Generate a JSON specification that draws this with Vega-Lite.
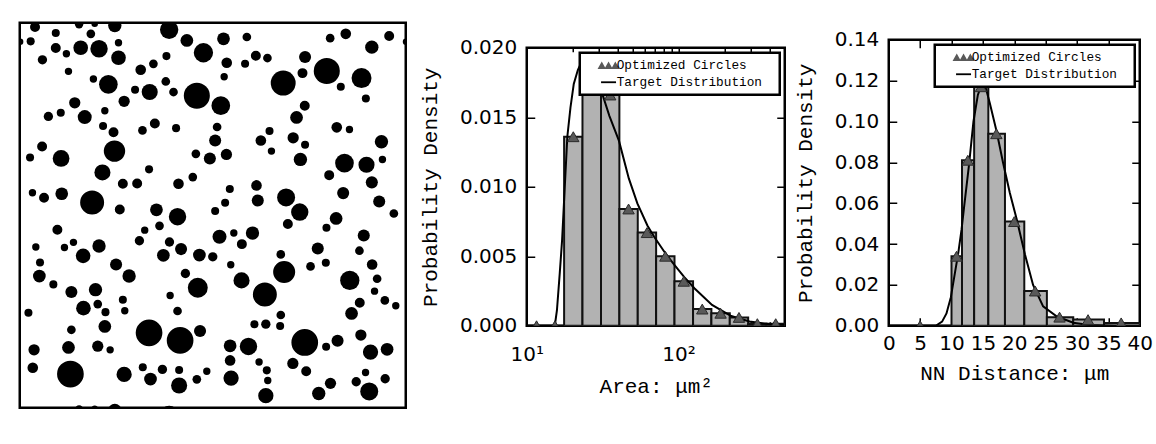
{
  "$schema": "https://vega.github.io/schema/vega-lite/v6.json",
  "background": "white",
  "padding": {"left": 17.75, "top": 20.75, "right": 0, "bottom": 0},
  "datasets": {
    "circles": [
      {"x":9.5,"y":2.7,"d":6.2},{"x":36.9,"y":1.0,"d":5.2},{"x":46.6,"y":0.6,"d":4.1},{"x":59.1,"y":1.7,"d":8.3},{"x":92.9,"y":4.4,"d":11.4},
      {"x":36.9,"y":241.0,"d":5.2},{"x":46.6,"y":240.6,"d":4.1},{"x":59.1,"y":241.7,"d":8.3},{"x":92.9,"y":244.4,"d":11.4},
      {"x":202.7,"y":6.9,"d":6.6},{"x":229.7,"y":8.3,"d":6.2},{"x":193.0,"y":9.6,"d":5.4},{"x":22.4,"y":6.4,"d":5.0},{"x":44.2,"y":6.9,"d":5.4},
      {"x":6.8,"y":11.6,"d":5.0},{"x":0.2,"y":11.8,"d":4.1},{"x":240.2,"y":11.8,"d":4.1},{"x":103.9,"y":11.0,"d":7.9},{"x":126.7,"y":10.0,"d":7.9},
      {"x":141.2,"y":8.9,"d":5.4},{"x":37.9,"y":15.6,"d":9.1},{"x":49.3,"y":16.2,"d":10.8},{"x":22.4,"y":15.8,"d":6.2},{"x":61.4,"y":12.5,"d":4.6},
      {"x":218.9,"y":15.2,"d":8.3},{"x":114.2,"y":18.7,"d":12.0},{"x":29.0,"y":19.3,"d":4.6},{"x":14.1,"y":23.1,"d":5.8},{"x":61.4,"y":21.8,"d":9.1},
      {"x":91.2,"y":20.8,"d":5.0},{"x":83.1,"y":25.6,"d":5.4},{"x":75.2,"y":29.3,"d":6.6},{"x":128.7,"y":24.9,"d":6.6},{"x":140.1,"y":25.6,"d":5.0},
      {"x":146.8,"y":20.6,"d":6.2},{"x":154.0,"y":22.0,"d":5.4},{"x":177.4,"y":21.4,"d":7.5},{"x":190.9,"y":30.1,"d":16.2},{"x":163.8,"y":37.6,"d":15.5},
      {"x":212.5,"y":34.5,"d":12.4},{"x":175.8,"y":31.4,"d":6.2},{"x":30.3,"y":30.3,"d":4.6},{"x":127.1,"y":33.7,"d":4.6},{"x":45.8,"y":35.1,"d":4.6},
      {"x":55.1,"y":38.4,"d":11.6},{"x":90.8,"y":36.6,"d":5.4},{"x":71.7,"y":41.8,"d":5.0},{"x":80.8,"y":43.2,"d":10.0},{"x":95.6,"y":43.2,"d":5.4},
      {"x":110.1,"y":45.5,"d":16.2},{"x":125.0,"y":51.7,"d":11.6},{"x":199.6,"y":39.9,"d":5.0},{"x":215.2,"y":47.2,"d":5.0},{"x":64.9,"y":49.0,"d":7.0},
      {"x":34.2,"y":49.9,"d":7.0},{"x":177.2,"y":51.7,"d":6.2},{"x":25.5,"y":56.1,"d":5.0},{"x":17.8,"y":58.4,"d":5.8},{"x":40.4,"y":58.8,"d":8.7},
      {"x":52.9,"y":54.9,"d":4.6},{"x":172.1,"y":59.0,"d":7.9},{"x":84.0,"y":62.8,"d":6.2},{"x":97.2,"y":65.7,"d":5.0},{"x":76.3,"y":67.1,"d":5.4},
      {"x":51.8,"y":64.4,"d":5.0},{"x":58.3,"y":68.2,"d":6.2},{"x":122.7,"y":65.0,"d":5.4},{"x":197.1,"y":65.2,"d":6.6},{"x":205.0,"y":66.5,"d":4.6},
      {"x":155.3,"y":67.5,"d":5.0},{"x":149.9,"y":73.4,"d":6.6},{"x":170.0,"y":71.7,"d":7.0},{"x":177.4,"y":76.1,"d":5.0},{"x":156.5,"y":80.0,"d":4.6},
      {"x":121.5,"y":73.4,"d":7.5},{"x":224.9,"y":74.2,"d":8.3},{"x":13.9,"y":77.1,"d":6.2},{"x":6.4,"y":84.0,"d":5.0},{"x":25.7,"y":84.6,"d":10.4},
      {"x":58.9,"y":80.0,"d":13.3},{"x":109.5,"y":81.7,"d":5.4},{"x":118.2,"y":84.6,"d":7.5},{"x":128.5,"y":82.1,"d":7.0},{"x":174.5,"y":85.2,"d":8.3},
      {"x":201.9,"y":87.5,"d":11.6},{"x":215.6,"y":88.5,"d":10.0},{"x":225.5,"y":85.2,"d":4.6},{"x":80.4,"y":91.4,"d":5.0},{"x":51.4,"y":93.3,"d":10.0},
      {"x":192.4,"y":95.0,"d":6.2},{"x":107.6,"y":96.2,"d":5.4},{"x":64.1,"y":100.4,"d":6.2},{"x":73.0,"y":100.2,"d":6.2},{"x":98.7,"y":100.4,"d":6.6},
      {"x":147.2,"y":101.4,"d":6.6},{"x":218.9,"y":99.5,"d":7.5},{"x":130.6,"y":103.7,"d":5.0},{"x":7.9,"y":106.0,"d":4.6},{"x":15.1,"y":109.1,"d":6.2},
      {"x":26.1,"y":106.6,"d":7.9},{"x":45.0,"y":112.0,"d":14.9},{"x":201.1,"y":106.2,"d":7.5},{"x":165.6,"y":108.9,"d":11.2},{"x":148.0,"y":110.8,"d":7.5},
      {"x":127.7,"y":112.2,"d":5.0},{"x":223.5,"y":111.4,"d":7.5},{"x":62.2,"y":116.4,"d":6.2},{"x":85.0,"y":116.6,"d":7.9},{"x":98.1,"y":120.9,"d":10.8},
      {"x":121.5,"y":117.4,"d":5.0},{"x":174.1,"y":118.0,"d":10.8},{"x":232.6,"y":118.9,"d":5.4},{"x":196.7,"y":122.0,"d":7.9},{"x":166.7,"y":125.5,"d":6.2},
      {"x":86.9,"y":126.6,"d":5.4},{"x":190.7,"y":127.8,"d":5.0},{"x":23.4,"y":129.0,"d":6.2},{"x":77.7,"y":129.3,"d":4.6},{"x":124.2,"y":133.4,"d":8.7},
      {"x":133.1,"y":131.1,"d":4.6},{"x":144.7,"y":131.1,"d":8.3},{"x":213.9,"y":132.6,"d":7.5},{"x":74.4,"y":135.9,"d":5.8},{"x":93.1,"y":136.7,"d":5.8},
      {"x":33.4,"y":136.9,"d":4.6},{"x":138.1,"y":138.0,"d":6.2},{"x":10.0,"y":139.8,"d":4.6},{"x":27.8,"y":140.1,"d":4.6},{"x":49.3,"y":139.2,"d":8.3},
      {"x":100.3,"y":141.1,"d":7.5},{"x":185.3,"y":140.7,"d":7.5},{"x":211.2,"y":142.1,"d":5.4},{"x":39.4,"y":145.3,"d":9.1},{"x":89.3,"y":145.0,"d":7.9},
      {"x":111.7,"y":144.8,"d":7.9},{"x":120.0,"y":145.9,"d":5.8},{"x":162.3,"y":144.4,"d":5.4},{"x":12.6,"y":149.4,"d":5.0},{"x":190.3,"y":149.6,"d":5.0},
      {"x":59.9,"y":150.7,"d":7.5},{"x":131.2,"y":150.9,"d":4.6},{"x":219.1,"y":150.7,"d":6.6},{"x":180.8,"y":151.9,"d":5.4},{"x":164.4,"y":155.4,"d":13.7},
      {"x":103.0,"y":156.3,"d":5.8},{"x":12.2,"y":157.9,"d":7.9},{"x":68.0,"y":157.9,"d":8.3},{"x":137.9,"y":160.6,"d":10.0},{"x":205.2,"y":160.6,"d":12.0},
      {"x":222.2,"y":159.6,"d":5.4},{"x":20.9,"y":163.1,"d":5.0},{"x":110.7,"y":165.2,"d":12.4},{"x":47.1,"y":166.4,"d":8.3},{"x":32.1,"y":167.9,"d":7.5},
      {"x":152.4,"y":169.4,"d":14.9},{"x":220.6,"y":167.3,"d":4.6},{"x":93.5,"y":170.0,"d":4.6},{"x":64.1,"y":172.7,"d":5.0},{"x":227.0,"y":173.1,"d":5.4},
      {"x":211.4,"y":174.6,"d":6.2},{"x":233.8,"y":176.4,"d":4.6},{"x":48.5,"y":175.4,"d":5.4},{"x":39.6,"y":177.9,"d":9.1},{"x":65.3,"y":179.5,"d":4.6},
      {"x":53.3,"y":180.4,"d":5.0},{"x":98.1,"y":179.7,"d":5.4},{"x":5.4,"y":180.8,"d":5.0},{"x":206.3,"y":181.2,"d":7.9},{"x":162.3,"y":182.2,"d":5.4},
      {"x":145.9,"y":187.9,"d":5.0},{"x":153.0,"y":187.9,"d":5.8},{"x":161.9,"y":189.1,"d":5.0},{"x":52.9,"y":189.3,"d":7.9},{"x":32.1,"y":191.4,"d":5.4},
      {"x":80.4,"y":193.3,"d":16.6},{"x":99.7,"y":198.0,"d":16.6},{"x":112.1,"y":192.2,"d":7.5},{"x":177.2,"y":199.3,"d":16.6},{"x":212.1,"y":194.7,"d":7.0},
      {"x":197.6,"y":198.2,"d":7.5},{"x":190.5,"y":202.0,"d":5.0},{"x":130.8,"y":201.4,"d":7.9},{"x":142.2,"y":201.8,"d":10.8},{"x":30.3,"y":202.4,"d":7.9},
      {"x":48.5,"y":201.6,"d":7.0},{"x":56.2,"y":203.9,"d":4.6},{"x":8.9,"y":203.9,"d":7.0},{"x":218.1,"y":205.3,"d":9.5},{"x":228.4,"y":203.6,"d":7.9},
      {"x":130.8,"y":210.5,"d":6.6},{"x":169.8,"y":212.4,"d":7.0},{"x":8.1,"y":215.1,"d":6.6},{"x":31.5,"y":219.0,"d":16.6},{"x":64.9,"y":219.2,"d":9.5},
      {"x":76.5,"y":214.7,"d":5.0},{"x":88.7,"y":216.1,"d":5.8},{"x":99.1,"y":216.5,"d":5.0},{"x":148.8,"y":211.5,"d":4.6},{"x":153.6,"y":216.7,"d":5.0},
      {"x":178.1,"y":217.2,"d":6.2},{"x":215.0,"y":218.0,"d":4.6},{"x":81.3,"y":222.1,"d":7.9},{"x":99.1,"y":226.1,"d":10.0},{"x":110.1,"y":222.3,"d":5.4},
      {"x":116.3,"y":217.2,"d":4.6},{"x":131.4,"y":221.5,"d":9.5},{"x":154.2,"y":223.0,"d":4.6},{"x":227.2,"y":221.9,"d":5.8},{"x":193.2,"y":224.8,"d":7.0},
      {"x":209.2,"y":223.8,"d":5.8},{"x":185.9,"y":231.1,"d":8.3},{"x":217.3,"y":229.8,"d":11.2},{"x":153.0,"y":232.5,"d":9.5}
    ],
    "areaHist": [
      {"lo":10.09,"hi":13.34,"mid":11.6,"density":0},
      {"lo":13.34,"hi":17.62,"mid":15.33,"density":0},
      {"lo":17.62,"hi":23.28,"mid":20.25,"density":0.0136},
      {"lo":23.28,"hi":30.83,"mid":26.79,"density":0.0186},
      {"lo":30.83,"hi":40.74,"mid":35.44,"density":0.0166},
      {"lo":40.74,"hi":53.83,"mid":46.83,"density":0.0084},
      {"lo":53.83,"hi":71.12,"mid":61.87,"density":0.0067},
      {"lo":71.12,"hi":93.97,"mid":81.75,"density":0.005},
      {"lo":93.97,"hi":124.5,"mid":108.2,"density":0.0032},
      {"lo":124.5,"hi":164.4,"mid":143.1,"density":0.0012},
      {"lo":164.4,"hi":217.3,"mid":189.0,"density":0.0009},
      {"lo":217.3,"hi":287.1,"mid":249.8,"density":0.0006},
      {"lo":287.1,"hi":379.3,"mid":330.0,"density":0.00015},
      {"lo":379.3,"hi":501.2,"mid":436.0,"density":0.00015}
    ],
    "areaCurve": [
      {"area":10,"density":0},{"area":15.3,"density":0},{"area":15.8,"density":0.0011},{"area":16.5,"density":0.0038},
      {"area":17.1,"density":0.0062},{"area":17.8,"density":0.01},{"area":18.5,"density":0.0136},{"area":19.4,"density":0.0157},
      {"area":20.4,"density":0.0174},{"area":21.7,"density":0.0184},{"area":22.8,"density":0.0189},{"area":24.5,"density":0.0191},
      {"area":26.5,"density":0.0187},{"area":28.5,"density":0.0179},{"area":31.4,"density":0.0167},{"area":35,"density":0.0151},
      {"area":40.5,"density":0.0133},{"area":47,"density":0.0106},{"area":53.5,"density":0.0088},{"area":62.4,"density":0.0072},
      {"area":69,"density":0.0064},{"area":82,"density":0.0052},{"area":93.5,"density":0.0044},{"area":109,"density":0.0035},
      {"area":127,"density":0.0027},{"area":166,"density":0.0015},{"area":222,"density":0.0007},{"area":293,"density":0.0003},
      {"area":388,"density":0.00012},{"area":500,"density":0.00005}
    ],
    "nnHist": [
      {"lo":0,"hi":10,"mid":5.0,"density":0},
      {"lo":10.0,"hi":11.67,"mid":10.8,"density":0.034},
      {"lo":11.67,"hi":13.61,"mid":12.6,"density":0.081},
      {"lo":13.61,"hi":15.87,"mid":14.7,"density":0.117},
      {"lo":15.87,"hi":18.52,"mid":17.15,"density":0.094},
      {"lo":18.52,"hi":21.6,"mid":20.0,"density":0.051},
      {"lo":21.6,"hi":25.2,"mid":23.33,"density":0.017},
      {"lo":25.2,"hi":29.4,"mid":27.22,"density":0.0042},
      {"lo":29.4,"hi":34.3,"mid":31.76,"density":0.003},
      {"lo":34.3,"hi":40.0,"mid":37.04,"density":0.0014}
    ],
    "nnCurve": [
      {"dist":0,"density":0},{"dist":7.5,"density":0},{"dist":8.5,"density":0.002},{"dist":9.2,"density":0.006},
      {"dist":9.9,"density":0.014},{"dist":10.5,"density":0.025},{"dist":11.1,"density":0.036},{"dist":11.6,"density":0.047},
      {"dist":12.0,"density":0.058},{"dist":12.8,"density":0.079},{"dist":13.5,"density":0.1},{"dist":14.2,"density":0.113},
      {"dist":14.9,"density":0.119},{"dist":15.5,"density":0.116},{"dist":16.1,"density":0.109},{"dist":17.2,"density":0.095},
      {"dist":18.2,"density":0.08},{"dist":19.3,"density":0.065},{"dist":20.4,"density":0.052},{"dist":21.7,"density":0.035},
      {"dist":23.0,"density":0.02},{"dist":24.6,"density":0.0095},{"dist":26.8,"density":0.0045},{"dist":29.4,"density":0.0015},
      {"dist":32,"density":0.0004},{"dist":36,"density":0},{"dist":40,"density":0}
    ],
    "legendKeys": [
      {"series":"Optimized Circles","area":10,"density":0},
      {"series":"Target Distribution","area":10,"density":0}
    ]
  },
  "spacing": 6,
  "resolve": {
    "scale": {"shape": "independent", "fill": "independent", "size": "independent"},
    "legend": {"shape": "independent", "fill": "independent", "size": "independent"}
  },
  "hconcat": [
    {
      "width": 386,
      "height": 385,
      "title": {"text": " ", "orient": "right", "fontSize": 2, "offset": 2},
      "data": {"name": "circles"},
      "mark": {"type": "circle", "color": "#000000", "opacity": 1, "clip": true},
      "encoding": {
        "x": {"field": "x", "type": "quantitative", "scale": {"domain": [0, 240], "nice": false, "zero": false}, "axis": null},
        "y": {"field": "y", "type": "quantitative", "scale": {"domain": [0, 240], "nice": false, "zero": false, "reverse": true}, "axis": null},
        "size": {"field": "d", "type": "quantitative", "scale": {"type": "pow", "exponent": 2, "domain": [0, 20], "range": [0, 1035]}, "legend": null}
      }
    },
    {
      "spacing": 0,
      "resolve": {
        "scale": {"shape": "independent", "fill": "independent"},
        "legend": {"shape": "independent", "fill": "independent"}
      },
      "vconcat": [
        {
          "width": 1,
          "height": 12.3,
          "view": {"stroke": null},
          "data": {"values": []},
          "mark": "point"
        },
        {
          "width": 258,
          "height": 278,
          "resolve": {"axis": {"x": "independent", "y": "independent"}},
          "layer": [
            {
              "data": {"name": "areaHist"},
              "mark": {"type": "rect", "fill": "#b2b2b2", "stroke": "#111111", "strokeWidth": 2, "clip": true},
              "encoding": {
                "x": {"field": "lo", "type": "quantitative", "scale": {"type": "log", "domain": [10, 500], "nice": false},
                      "axis": {"orient": "bottom", "values": [10, 100], "tickSize": -8, "labelExpr": "datum.value == 10 ? '10¹' : '10²'", "labelPadding": 27, "title": "Area: μm²", "titlePadding": 11}},
                "x2": {"field": "hi"},
                "y": {"field": "density", "type": "quantitative", "scale": {"domain": [0, 0.02], "nice": false},
                      "axis": {"orient": "left", "values": [0, 0.005, 0.01, 0.015, 0.02], "format": ".3f", "tickSize": -8, "labelPadding": 18, "title": "Probability Density", "titlePadding": 19}},
                "y2": {"datum": 0}
              }
            },
            {
              "data": {"name": "areaCurve"},
              "mark": {"type": "line", "color": "#000000", "strokeWidth": 2, "clip": true},
              "encoding": {
                "x": {"field": "area", "type": "quantitative", "axis": {"orient": "top", "values": [10, 100], "tickSize": -8, "labels": false, "title": null}},
                "y": {"field": "density", "type": "quantitative", "axis": {"orient": "right", "values": [0, 0.005, 0.01, 0.015, 0.02], "tickSize": -8, "labels": false, "title": null}}
              }
            },
            {
              "data": {"name": "areaHist"},
              "mark": {"type": "point", "shape": "triangle-up", "filled": true, "fill": "#595959", "stroke": "#2b2b2b", "strokeWidth": 1, "size": 130, "opacity": 1, "clip": true},
              "encoding": {
                "x": {"field": "mid", "type": "quantitative", "axis": {"orient": "bottom", "values": [20, 30, 40, 50, 60, 70, 80, 90, 200, 300, 400, 500], "tickSize": -4, "labels": false, "title": null}},
                "y": {"field": "density", "type": "quantitative", "axis": null}
              }
            },
            {
              "data": {"name": "legendKeys"},
              "mark": {"type": "point", "filled": true, "opacity": 0, "stroke": "#2b2b2b", "strokeWidth": 1},
              "encoding": {
                "x": {"field": "area", "type": "quantitative", "axis": {"orient": "top", "values": [20, 30, 40, 50, 60, 70, 80, 90, 200, 300, 400, 500], "tickSize": -4, "labels": false, "title": null}},
                "y": {"field": "density", "type": "quantitative", "axis": null},
                "shape": {"field": "series", "type": "nominal",
                          "scale": {"domain": ["Optimized Circles", "Target Distribution"], "range": ["M-1.57,0.55L-0.97,-0.55L-0.37,0.55ZM-0.6,0.55L0,-0.55L0.6,0.55ZM0.37,0.55L0.97,-0.55L1.57,0.55Z", "M-1.07,-0.13H1.07V0.13H-1.07Z"]},
                          "legend": {"title": " "}},
                "fill": {"field": "series", "type": "nominal",
                         "scale": {"domain": ["Optimized Circles", "Target Distribution"], "range": ["#595959", "#000000"]},
                         "legend": {"title": " "}}
              }
            }
          ]
        }
      ]
    },
    {
      "spacing": 0,
      "resolve": {
        "scale": {"shape": "independent", "fill": "independent"},
        "legend": {"shape": "independent", "fill": "independent"}
      },
      "vconcat": [
        {
          "width": 1,
          "height": 5,
          "view": {"stroke": null},
          "data": {"values": []},
          "mark": "point"
        },
        {
          "width": 251,
          "height": 286,
          "resolve": {"axis": {"x": "independent", "y": "independent"}},
          "layer": [
            {
              "data": {"name": "nnHist"},
              "mark": {"type": "rect", "fill": "#b2b2b2", "stroke": "#111111", "strokeWidth": 2, "clip": true},
              "encoding": {
                "x": {"field": "lo", "type": "quantitative", "scale": {"domain": [0, 40], "nice": false, "zero": false},
                      "axis": {"orient": "bottom", "values": [0, 5, 10, 15, 20, 25, 30, 35, 40], "tickSize": -8, "labelPadding": 16, "title": "NN Distance: μm", "titlePadding": 9}},
                "x2": {"field": "hi"},
                "y": {"field": "density", "type": "quantitative", "scale": {"domain": [0, 0.14], "nice": false},
                      "axis": {"orient": "left", "values": [0, 0.02, 0.04, 0.06, 0.08, 0.1, 0.12, 0.14], "format": ".2f", "tickSize": -8, "labelPadding": 18, "title": "Probability Density", "titlePadding": 19}},
                "y2": {"datum": 0}
              }
            },
            {
              "data": {"name": "nnCurve"},
              "mark": {"type": "line", "color": "#000000", "strokeWidth": 2, "clip": true},
              "encoding": {
                "x": {"field": "dist", "type": "quantitative", "axis": {"orient": "top", "values": [0, 5, 10, 15, 20, 25, 30, 35, 40], "tickSize": -8, "labels": false, "title": null}},
                "y": {"field": "density", "type": "quantitative", "axis": {"orient": "right", "values": [0, 0.02, 0.04, 0.06, 0.08, 0.1, 0.12, 0.14], "tickSize": -8, "labels": false, "title": null}}
              }
            },
            {
              "data": {"name": "nnHist"},
              "mark": {"type": "point", "shape": "triangle-up", "filled": true, "fill": "#595959", "stroke": "#2b2b2b", "strokeWidth": 1, "size": 130, "opacity": 1, "clip": true},
              "encoding": {
                "x": {"field": "mid", "type": "quantitative", "axis": null},
                "y": {"field": "density", "type": "quantitative", "axis": null}
              }
            },
            {
              "data": {"name": "legendKeys"},
              "mark": {"type": "point", "filled": true, "opacity": 0, "stroke": "#2b2b2b", "strokeWidth": 1},
              "encoding": {
                "shape": {"field": "series", "type": "nominal",
                          "scale": {"domain": ["Optimized Circles", "Target Distribution"], "range": ["M-1.57,0.55L-0.97,-0.55L-0.37,0.55ZM-0.6,0.55L0,-0.55L0.6,0.55ZM0.37,0.55L0.97,-0.55L1.57,0.55Z", "M-1.07,-0.13H1.07V0.13H-1.07Z"]},
                          "legend": {"title": " "}},
                "fill": {"field": "series", "type": "nominal",
                         "scale": {"domain": ["Optimized Circles", "Target Distribution"], "range": ["#595959", "#000000"]},
                         "legend": {"title": " "}}
              }
            }
          ]
        }
      ]
    }
  ],
  "config": {
    "view": {"stroke": "#000000", "strokeWidth": 2.5},
    "axis": {
      "domain": false, "grid": false, "ticks": true, "tickColor": "#000000", "tickWidth": 1.5,
      "labelColor": "#000000", "labelFont": "DejaVu Sans", "labelFontSize": 20,
      "labelFlush": false, "labelOverlap": false, "labelBound": false,
      "titleColor": "#000000", "titleFont": "Liberation Mono", "titleFontSize": 21, "titleFontWeight": "normal"
    },
    "legend": {
      "orient": "top-right", "offset": 5, "fillColor": "#ffffff", "strokeColor": "#000000", "strokeWidth": 2.5,
      "padding": 5, "rowPadding": 2, "labelOffset": 0.6, "symbolOffset": 16.3, "symbolSize": 196, "symbolOpacity": 1,
      "symbolStrokeColor": "#2b2b2b", "symbolStrokeWidth": 1,
      "labelFont": "Liberation Mono", "labelFontSize": 12.75, "labelColor": "#000000",
      "titleOrient": "right", "titlePadding": 13, "titleFontSize": 1
    },
    "title": {"font": "DejaVu Sans"}
  }
}
